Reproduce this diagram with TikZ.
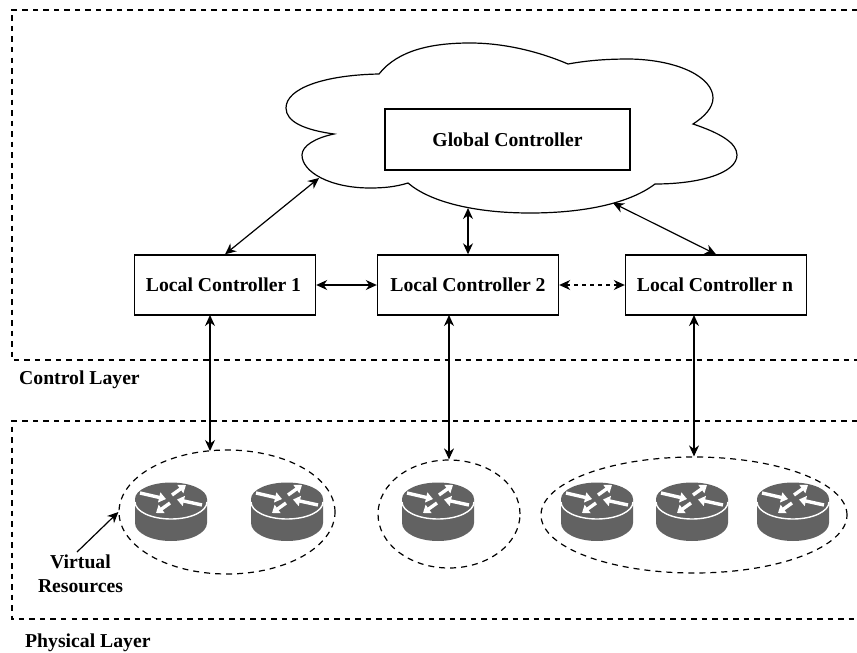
\documentclass[tikz,border=0pt]{standalone}
\usepackage{fontspec}
\setmainfont{Liberation Serif}
\usetikzlibrary{arrows.meta,shapes.geometric}
\tikzset{
  box/.style={draw=black,line width=1.4pt,fill=white,minimum width=#1,minimum height=60pt,inner sep=0pt,font=\fontsize{19.7}{24}\selectfont\bfseries},
  box/.default=181pt,
  link/.style={line width=1.2pt,{Stealth[length=11pt,width=10pt]}-{Stealth[length=11pt,width=10pt]}},
  dashlink/.style={link,dash pattern=on 4pt off 4pt},
  layer/.style={line width=1.1pt,dash pattern=on 5.5pt off 5pt},
  vres/.style={draw=black,line width=1.2pt,dash pattern=on 6pt off 5pt,ellipse,inner sep=0pt},
  lab/.style={font=\fontsize{19.7}{24}\selectfont\bfseries,inner sep=0pt},
  router/.pic={
    \fill[routerg] (-36,0) -- (-36,24) arc[start angle=180,end angle=0,x radius=36,y radius=18] -- (36,0) -- cycle;
    \fill[routerg] (0,0) ellipse[x radius=36,y radius=16.5];
    \draw[white,line width=1.4pt] (-36,3) arc[start angle=180,end angle=0,x radius=36,y radius=17];
    \draw[rarrow] (-31,-6) -- (-5,0);
    \draw[rarrow] (1,-4) -- (15,-14);
    \draw[rarrow] (31,6) -- (6,0.5);
    \draw[rarrow] (-1,4) -- (-15,14);
  },
  rarrow/.style={white,line width=3.4pt,-{Triangle[length=7pt,width=10pt]}}
}
\definecolor{routerg}{RGB}{98,98,98}
\begin{document}
\begin{tikzpicture}[x=1pt,y=-1pt]
\useasboundingbox (0,0) rectangle (857,653);
% layers
\draw[layer] (857,10) -- (12,10) -- (12,360) -- (857,360);
\draw[layer] (857,421) -- (12,421) -- (12,619) -- (857,619);
\node[lab,anchor=west] (cl) at (19,379.5) {Control Layer};
\node[lab,anchor=west] (pl) at (25,643) {Physical Layer};
% cloud
\draw[line width=1.2pt,fill=white] (379,74)
  .. controls (398,50) and (432,43) .. (470,43)
  .. controls (505,43) and (540,52) .. (568,64)
  .. controls (590,60) and (610,59) .. (630,59)
  .. controls (680,60) and (713,78) .. (713,98)
  .. controls (713,108) and (704,117) .. (693,124)
  .. controls (720,133) and (737,143) .. (737,155)
  .. controls (737,173) and (700,184) .. (655,184)
  .. controls (630,203) and (585,213) .. (530,213)
  .. controls (475,213) and (430,202) .. (408,183)
  .. controls (395,187) and (383,188) .. (370,188)
  .. controls (330,188) and (302,172) .. (302,155)
  .. controls (302,146) and (315,138) .. (334,134)
  .. controls (305,130) and (286,122) .. (286,108)
  .. controls (286,88) and (325,75) .. (379,74) -- cycle;
\coordinate (cA) at (319,178);
\coordinate (cB) at (468,208);
\coordinate (cC) at (613,203);
% boxes
\node[box=245pt,minimum height=61pt] (gc) at (507.5,139.5) {Global Controller};
\node[box] (lc1) at (225,285) {\hspace*{-3pt}Local Controller 1};
\node[box] (lc2) at (468,285) {Local Controller 2};
\node[box] (lcn) at (716,285) {\hspace*{-2pt}Local Controller n};
% virtual resources
\node[vres,minimum width=216pt,minimum height=124pt] (v1) at (227,512) {};
\node[vres,minimum width=142pt,minimum height=108pt] (v2) at (449,514) {};
\node[vres,minimum width=306pt,minimum height=116pt] (v3) at (694,515) {};
\pic at (171,499) {router};
\pic at (287,499) {router};
\pic at (438,499) {router};
\pic at (597,499) {router};
\pic at (692,499) {router};
\pic at (793,499) {router};
% links
\draw[link] (lc1.north) -- (cA);
\draw[link] (lc2.north) -- (cB);
\draw[link] (lcn.north) -- (cC);
\draw[link] (lc1.east) -- (lc2.west);
\draw[dashlink] (lc2.east) -- (lcn.west);
\coordinate (d1t) at (210,315);
\coordinate (d1b) at (210,451);
\coordinate (d2t) at (449,315);
\coordinate (d3t) at (694,315);
\draw[link] (d1t) -- (d1b);
\draw[link] (d2t) -- (v2.north);
\draw[link] (d3t) -- (v3.north);
% virtual label
\node[lab,align=center] (vr) at (80.5,574) {Virtual\\Resources};
\coordinate (vrt) at (77,552);
\draw[line width=1.2pt,-{Stealth[length=11pt,width=10pt]}] (vrt) -- (v1.west);
\end{tikzpicture}
\end{document}
